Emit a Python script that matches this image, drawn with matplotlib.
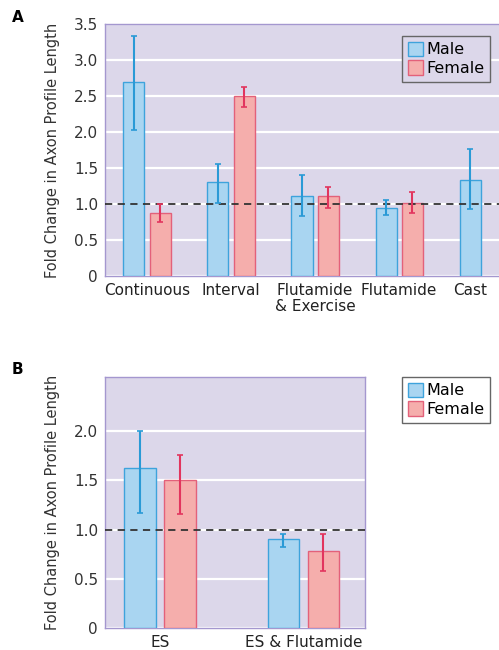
import matplotlib
matplotlib.use("Agg")
import matplotlib.pyplot as plt
import numpy as np
from matplotlib.patches import Patch

plt.rcParams['font.family'] = ['DejaVu Sans']

# Panel A data
cats_a = ["Continuous", "Interval", "Flutamide\n& Exercise", "Flutamide", "Cast"]
male_a = [2.69, 1.30, 1.11, 0.94, 1.34]
male_a_lo = [2.03, 1.02, 0.84, 0.85, 0.93]
male_a_hi = [3.33, 1.55, 1.40, 1.05, 1.77]
female_a = [0.88, 2.50, 1.11, 1.02]
female_a_lo = [0.75, 2.35, 0.95, 0.87]
female_a_hi = [1.00, 2.63, 1.24, 1.16]

# Panel B data
cats_b = ["ES", "ES & Flutamide"]
male_b = [1.63, 0.90]
male_b_lo = [1.17, 0.82]
male_b_hi = [2.00, 0.95]
female_b = [1.50, 0.78]
female_b_lo = [1.16, 0.58]
female_b_hi = [1.76, 0.95]

yticks_a = [0, 0.5, 1.0, 1.5, 2.0, 2.5, 3.0, 3.5]
yticklabels_a = ["0", "0.5", "1.0", "1.5", "2.0", "2.5", "3.0", "3.5"]
yticks_b = [0, 0.5, 1.0, 1.5, 2.0]
yticklabels_b = ["0", "0.5", "1.0", "1.5", "2.0"]

BG = "#dcd7ea"
FRAME = "#a497cf"
M_FILL = "#a9d5f1"
M_EDGE = "#3ea3dc"
M_ERR = "#2a9ad6"
F_FILL = "#f5aeac"
F_EDGE = "#e3617a"
F_ERR = "#e2355e"

fig = plt.figure(figsize=(4.99, 6.5), dpi=100)
W, H = 499, 650

def px_axes(l, t, r, b):
    return fig.add_axes([l / W, 1 - b / H, (r - l) / W, (b - t) / H])

def style(ax, yticks, ylabels, ylim):
    ax.set_facecolor(BG)
    for s in ax.spines.values():
        s.set_color(FRAME)
        s.set_linewidth(1.0)
    ax.set_ylim(*ylim)
    ax.set_yticks(yticks)
    ax.set_yticklabels(ylabels, fontsize=11, color="#333333")
    ax.tick_params(axis='both', length=0, pad=5)
    ax.yaxis.grid(True, color="white", linewidth=1.6)
    ax.set_axisbelow(True)
    ax.axhline(1.0, color="#333333", linestyle=(0, (4, 3)), linewidth=1.3, zorder=4)
    ax.set_ylabel("Fold Change in Axon Profile Length", fontsize=10.5, color="#333333",
                  labelpad=10)

def bars(ax, x, vals, lo, hi, fill, edge, err, width):
    ax.bar(x, vals, width=width, color=fill, edgecolor=edge, linewidth=1.0, zorder=3)
    ax.errorbar(x, vals, yerr=[np.array(vals) - np.array(lo), np.array(hi) - np.array(vals)],
                fmt='none', ecolor=err, elinewidth=1.5, capsize=2.5, capthick=1.2, zorder=5)

def make_legend(ax, anchor, face):
    h = [Patch(facecolor=M_FILL, edgecolor=M_EDGE, label="Male"),
         Patch(facecolor=F_FILL, edgecolor=F_EDGE, label="Female")]
    lg = ax.legend(handles=h, loc="upper left", bbox_to_anchor=anchor,
                   fontsize=11.5, handlelength=0.95, handleheight=1.0, handletextpad=0.25,
                   borderpad=0.35, labelspacing=0.2, borderaxespad=0,
                   frameon=True, fancybox=False, framealpha=1)
    lg.get_frame().set_facecolor(face)
    lg.get_frame().set_edgecolor("#666666")
    lg.get_frame().set_linewidth(1.0)
    lg.set_zorder(6)
    return lg

# Panel A
axA = px_axes(105, 24, 499, 276)
style(axA, yticks_a, yticklabels_a, (0, 3.5))
xa = np.arange(len(cats_a))
off = 0.155
wA = 0.25
bars(axA, xa - off, male_a, male_a_lo, male_a_hi, M_FILL, M_EDGE, M_ERR, wA)
xf = xa[:len(female_a)]
bars(axA, xf + off, female_a, female_a_lo, female_a_hi, F_FILL, F_EDGE, F_ERR, wA)
axA.set_xlim(-0.5, 4.19)
xt = list(xa[:4].astype(float)) + [4 - off]
axA.set_xticks(xt)
axA.set_xticklabels(cats_a, fontsize=11, color="#222222", linespacing=1.1)
axA.spines['right'].set_visible(False)
make_legend(axA, ((402 - 105) / (499 - 105), 1 - (36 - 24) / 252), BG)

# Panel B
axB = px_axes(105, 377, 365, 628)
style(axB, yticks_b, yticklabels_b, (0, 2.55))
xb = np.arange(len(cats_b))
offB = 0.14
wB = 0.22
bars(axB, xb - offB, male_b, male_b_lo, male_b_hi, M_FILL, M_EDGE, M_ERR, wB)
bars(axB, xb + offB, female_b, female_b_lo, female_b_hi, F_FILL, F_EDGE, F_ERR, wB)
axB.set_xlim(-0.385, 1.43)
axB.set_xticks(xb)
axB.set_xticklabels(cats_b, fontsize=11, color="#222222")
make_legend(axB, ((402 - 105) / (365 - 105), 1.0), "white")

fig.text(12 / W, 1 - 17 / H, "A", fontsize=11, fontweight="bold", va="center", ha="left")
fig.text(12 / W, 1 - 370 / H, "B", fontsize=11, fontweight="bold", va="center", ha="left")

fig.savefig("out.png", dpi=100)
